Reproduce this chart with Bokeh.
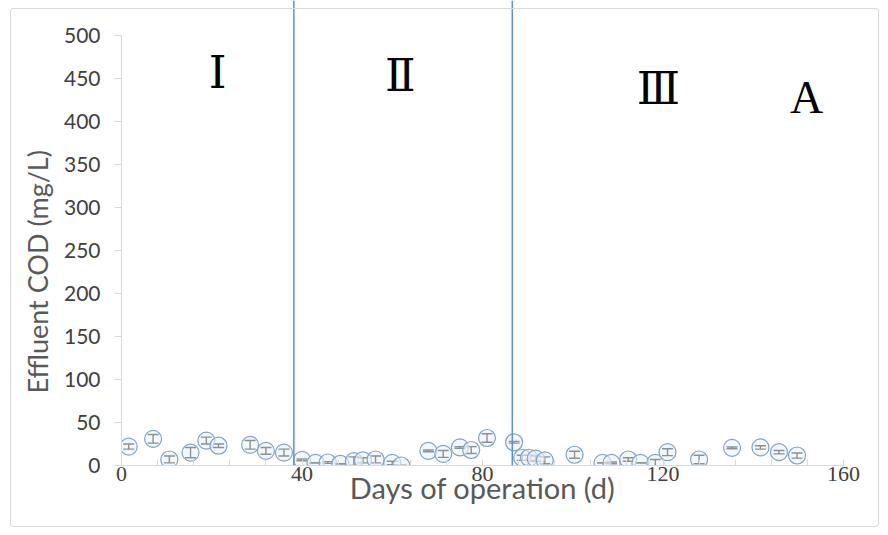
from bokeh.embed import file_html
from bokeh.models import (ColumnDataSource, FixedTicker, InlineStyleSheet, Label,
                          Span, TeeHead, Title, Whisker)
from bokeh.plotting import figure
from bokeh.resources import INLINE

# Effluent COD over the operating period
days = [1.6, 7.0, 10.6, 15.3, 18.8, 21.5, 28.5, 32.0, 36.0, 40.0,
        43.0, 45.7, 48.5, 51.5, 53.5, 56.3, 60.0, 62.0, 68.0, 71.3,
        75.0, 77.5, 81.0, 87.0, 88.8, 90.3, 91.8, 93.8, 100.4, 106.6,
        108.6, 112.3, 115.0, 118.3, 121.0, 128.0, 135.3, 141.6, 145.7, 149.7]
cod = [22, 31, 7, 15, 29, 23, 24, 17, 15, 6.6,
       3, 3.5, 2, 5, 6, 7, 3, 0, 17, 13.5,
       21, 18, 32, 27, 9, 9, 8, 6, 12.5, 3,
       3, 7, 3, 3, 15.5, 7, 20.5, 21, 15.5, 11.6]
cod_err = [3, 5, 4, 6, 4, 2, 5, 4, 4, 1,
           0, 1, 0, 5, 3, 4, 2, 0, 1, 4,
           1, 4, 5, 1, 3, 3, 3, 4, 4, 0,
           1, 2, 0, 4, 4, 5, 1, 2, 2, 3]

# phase boundaries (days) and phase names
phase_bounds = [38.2, 86.6]
phase_names = ["Ⅰ", "Ⅱ", "Ⅲ"]
panel_tag = "A"

x_ticks = list(range(0, 161, 8))
x_tick_labels = [0, 40, 80, 120, 160]
y_ticks = list(range(0, 501, 50))

src = ColumnDataSource(dict(
    day=days,
    cod=cod,
    lower=[c - e for c, e in zip(cod, cod_err)],
    upper=[c + e for c, e in zip(cod, cod_err)],
))

p = figure(width=888, height=535, x_range=(0, 160), y_range=(0, 540.7),
           output_backend="svg", toolbar_location=None,
           min_border_left=121, min_border_right=45,
           min_border_top=0, min_border_bottom=70)
p.outline_line_color = None
p.grid.visible = False
p.background_fill_color = "white"
p.border_fill_color = "white"

# thin frame around the whole chart area
p.stylesheets = [InlineStyleSheet(css="""
:host { position: relative; }
:host::after {
  content: ""; position: absolute; left: 10px; top: 8px;
  width: 869px; height: 519px; box-sizing: border-box;
  border: 1px solid #d9d9d9; border-radius: 3px; pointer-events: none;
}
""")]

# y axis
ya = p.yaxis[0]
ya.bounds = (0, 500)
ya.ticker = FixedTicker(ticks=y_ticks)
ya.major_tick_out = 7
ya.major_tick_in = 0
ya.minor_tick_line_color = None
ya.axis_line_color = "#d9d9d9"
ya.major_tick_line_color = "#d9d9d9"
ya.major_label_text_font = "Lato"
ya.major_label_text_font_size = "21px"
ya.major_label_text_color = "#404040"
ya.major_label_standoff = 14

# y axis title, starting just above the lower end of the axis
p.add_layout(Title(text="Effluent COD (mg/L)", align="left", offset=72,
                   standoff=14, text_font="Lato", text_font_size="27px",
                   text_font_style="normal", text_color="#595959"), "left")

# x axis
xa = p.xaxis[0]
xa.ticker = FixedTicker(ticks=x_ticks)
xa.major_label_overrides = {t: (str(t) if t in x_tick_labels else "") for t in x_ticks}
xa.major_tick_in = 6
xa.major_tick_out = 0
xa.minor_tick_line_color = None
xa.axis_line_color = "#d9d9d9"
xa.major_tick_line_color = "#d9d9d9"
xa.major_label_text_font = "Liberation Serif"
xa.major_label_text_font_size = "22px"
xa.major_label_text_color = "#404040"
xa.major_label_standoff = 1
xa.axis_label = "Days of operation (d)"
xa.axis_label_text_font = "Lato"
xa.axis_label_text_font_size = "29px"
xa.axis_label_text_font_style = "normal"
xa.axis_label_text_color = "#595959"
xa.axis_label_standoff = -14

# phase separators
for b in phase_bounds:
    p.add_layout(Span(location=b, dimension="height",
                      line_color="#5b8fd0", line_width=1.5))

# phase names and panel letter
for name, (x, y) in zip(phase_names, [(21.3, 457), (61.8, 453.5), (119.0, 438)]):
    p.add_layout(Label(x=x, y=y, text=name, text_align="center",
                       text_baseline="middle", text_font="DejaVu Serif",
                       text_font_size="45px", text_color="black"))
p.add_layout(Label(x=151.8, y=428, text=panel_tag, text_align="center",
                   text_baseline="middle", text_font="Liberation Serif",
                   text_font_size="46px", text_color="black"))

# data points
p.scatter("day", "cod", source=src, size=17, marker="circle",
          fill_color="#eaf1f8", fill_alpha=0.6,
          line_color="#7ea2c9", line_width=1.2)

p.add_layout(Whisker(base="day", lower="lower", upper="upper", source=src,
                     line_color="black", line_width=1.4,
                     upper_head=TeeHead(size=11, line_color="black", line_width=1.4),
                     lower_head=TeeHead(size=11, line_color="black", line_width=1.4)))

open("out.html", "w").write(file_html(p, INLINE))
